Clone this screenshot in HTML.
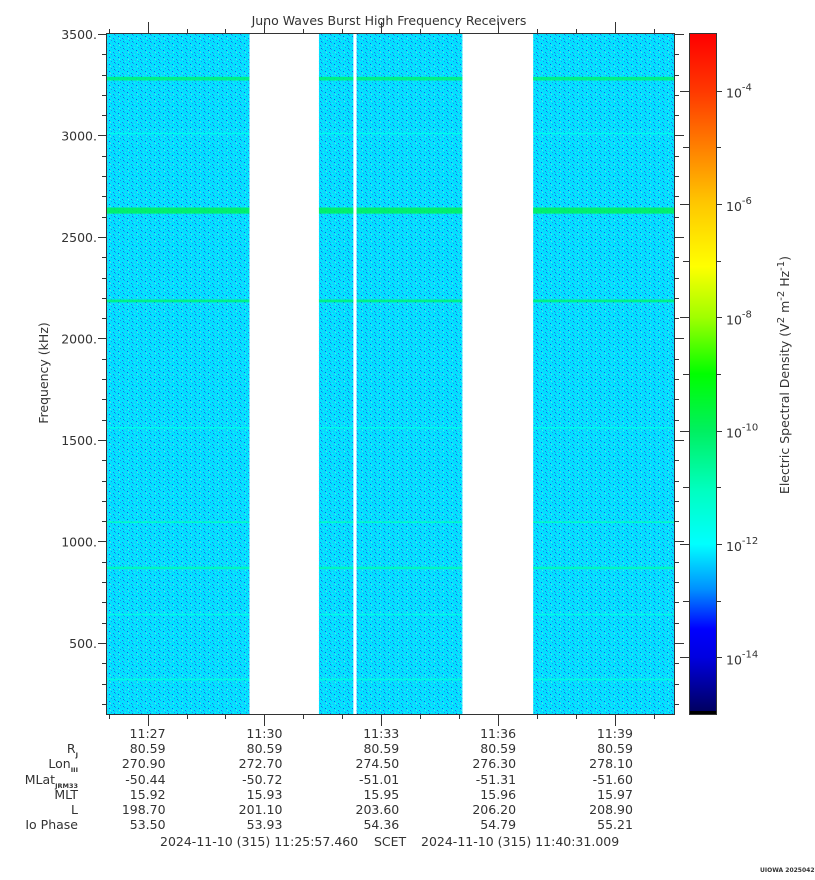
<!DOCTYPE html>
<html><head><meta charset="utf-8">
<style>
html,body{margin:0;padding:0;background:#fff;}
svg{display:block;font-family:"DejaVu Sans","Liberation Sans",sans-serif;}
text{fill:#333;}
</style></head>
<body>
<svg id="chart" width="815" height="880" viewBox="0 0 815 880">
<defs>
<pattern id="noise" width="9" height="7" patternUnits="userSpaceOnUse">
<rect x="1" y="1" width="1" height="1" fill="#1030e8"/>
<rect x="5" y="3" width="1" height="1" fill="#2050f0"/>
<rect x="3" y="5" width="1" height="1" fill="#3070f0"/>
<rect x="7" y="0" width="1" height="1" fill="#2a80f0"/>
<rect x="0" y="4" width="1" height="1" fill="#40a0f8"/>
<rect x="6" y="6" width="1" height="1" fill="#1848e8"/>
<rect x="8" y="2" width="1" height="1" fill="#50a8f8"/>
<rect x="4" y="0" width="1" height="1" fill="#30b0f8"/>
<rect x="2" y="2" width="1" height="1" fill="#40c0f0"/>
<rect x="6" y="4" width="1" height="1" fill="#2898f0"/>
<rect x="2" y="3" width="1" height="1" fill="#60f0e0"/>
<rect x="8" y="5" width="1" height="1" fill="#30e8f0"/>
</pattern>
<clipPath id="plotclip"><rect x="107" y="34" width="567" height="680"/></clipPath>
</defs>
<g id="plot" clip-path="url(#plotclip)"></g>
<g id="axes"></g>
</svg>
<script>
// ---- data ----
const segStarts = ["11:25:57.46","11:31:24","11:32:22"];
const segEnds   = ["11:29:37","11:32:17","11:35:05"];
const segStarts2 = ["11:36:54"];
const segEnds2 = ["11:40:31.01"];
const baseLevel = -12.2;          // log10 background density
const bandFreqs = [3280, 2630, 2185, 1095, 870, 3010, 1560, 640, 320];
const bandLevels = [-10.2, -9.9, -10.2, -11.0, -10.9, -11.7, -11.6, -11.6, -11.5];
const bandWidths = [18, 30, 14, 8, 12, 8, 8, 8, 10];  // kHz
const timeTicks = ["11:27","11:30","11:33","11:36","11:39"];
const freqTicks = [500,1000,1500,2000,2500,3000,3500];
const cbarDecades = [-4,-6,-8,-10,-12,-14];
const rowRj = ["80.59","80.59","80.59","80.59","80.59"];
const rowLon = ["270.90","272.70","274.50","276.30","278.10"];
const rowMLat = ["-50.44","-50.72","-51.01","-51.31","-51.60"];
const rowMLT = ["15.92","15.93","15.95","15.96","15.97"];
const rowL = ["198.70","201.10","203.60","206.20","208.90"];
const rowIo = ["53.50","53.93","54.36","54.79","55.21"];

// ---- scales ----
const X0=107,X1=674,Y0=34,Y1=714;
const tMin=toMin("11:25:57.46"), tMax=toMin("11:40:31.01");
function toMin(s){const p=s.split(":");return +p[0]*60+ +p[1]+(p[2]?+p[2]/60:0);}
const xs=t=>X0+(toMin(t)-tMin)/(tMax-tMin)*(X1-X0);
const fMin=150,fMax=3500;
const ys=f=>Y1-(f-fMin)/(fMax-fMin)*(Y1-Y0);
const cMin=-15,cMax=-3;
const cy=v=>Y1-(v-cMin)/(cMax-cMin)*(Y1-Y0);
const stops=[[-15,[0,0,90]],[-14,[0,0,224]],[-13.5,[0,0,255]],[-12.8,[0,144,255]],[-12,[0,255,255]],[-11.05,[0,255,192]],[-10,[0,240,96]],[-9,[0,255,0]],[-8,[160,255,0]],[-7.1,[255,255,0]],[-6,[255,200,0]],[-4,[255,56,0]],[-3,[255,0,0]]];
function cmap(v){for(let i=1;i<stops.length;i++){if(v<=stops[i][0]){const a=stops[i-1],b=stops[i],f=Math.max(0,(v-a[0])/(b[0]-a[0]));return "rgb("+a[1].map((c,k)=>Math.round(c+(b[1][k]-c)*f)).join(",")+")";}}return "rgb(255,0,0)";}

const NS="http://www.w3.org/2000/svg";
function el(tag,attrs,parent,txt){const e=document.createElementNS(NS,tag);for(const k in attrs)e.setAttribute(k,attrs[k]);if(txt!==undefined)e.textContent=txt;parent.appendChild(e);return e;}
const plot=document.getElementById("plot"), axes=document.getElementById("axes");

const allStarts=segStarts.concat(segStarts2), allEnds=segEnds.concat(segEnds2);
allStarts.forEach((s,i)=>{
  const x=xs(s), w=xs(allEnds[i])-x;
  const g=el("g",{},plot);
  
  
  el("rect",{x:x,y:Y0,width:w,height:Y1-Y0,fill:cmap(baseLevel)},g);
  el("rect",{x:x,y:Y0,width:w,height:Y1-Y0,fill:"url(#noise)",opacity:0.8},g);
  bandFreqs.forEach((f,j)=>{
    const yTop=ys(f+bandWidths[j]/2), yBot=ys(f-bandWidths[j]/2);
    const r=el("rect",{x:x,y:yTop,width:w,height:Math.max(1.5,yBot-yTop),fill:cmap(bandLevels[j]),opacity:0.85},g);
    
    
  });
});

const frame=el("rect",{x:106.5,y:33.5,width:568,height:681,fill:"none",stroke:"#333","stroke-width":1},axes);



for(let f=200;f<=3500;f+=100){
  const y=Math.round(ys(f))+0.5, major=f%500===0;
  el("line",{x1:106,x2:major?98:102,y1:y,y2:y,stroke:"#333"},axes);
  el("line",{x1:674,x2:major?684:679,y1:y,y2:y,stroke:"#333"},axes);
}
freqTicks.forEach(f=>{
  const t=el("text",{x:97,y:ys(f)+5,"text-anchor":"end","font-size":12.5},axes,f+".");
  
  
});
const yl=el("text",{x:0,y:0,"text-anchor":"middle","font-size":12.5,transform:"translate(48,373) rotate(-90)"},axes,"Frequency (kHz)");



for(let m=26;m<=40;m++){
  const lbl="11:"+String(m).padStart(2,"0");
  const x=Math.round(xs(lbl))+0.5, major=m%3===0;
  el("line",{x1:x,x2:x,y1:34,y2:major?22:29,stroke:"#333"},axes);
  el("line",{x1:x,x2:x,y1:714,y2:major?726:719,stroke:"#333"},axes);
}
const colRight=t=>xs(t)+18;
timeTicks.forEach(t=>{
  const e=el("text",{x:colRight(t),y:738,"text-anchor":"end","font-size":12.5},axes,t);
  
  
});
const rows=[rowRj,rowLon,rowMLat,rowMLT,rowL,rowIo];
const rowY=[753,768,784,799,814,829];
rows.forEach((r,i)=>{
  r.forEach((v,j)=>{
    const e=el("text",{x:colRight(timeTicks[j]),y:rowY[i],"text-anchor":"end","font-size":12.5},axes,v);
    
    
  });
});
const lbls=[["R","J"],["Lon","III"],["MLat","JRM33"],["MLT",""],["L",""],["Io Phase",""]];
lbls.forEach((l,i)=>{
  const t=el("text",{x:78,y:rowY[i],"text-anchor":"end","font-size":12.5},axes);
  
  
  el("tspan",{},t,l[0]);
  if(l[1]) el("tspan",{"font-size":6.5,dy:4,"font-weight":"bold"},t,l[1]);
});
[["2024-11-10 (315) 11:25:57.460",160],["SCET",374],["2024-11-10 (315) 11:40:31.009",421]].forEach(d=>{
  const dl=el("text",{x:d[1],y:846,"font-size":12.5},axes,d[0]);
  
  
});

const ti=el("text",{x:389,y:25,"text-anchor":"middle","font-size":12.5},axes,"Juno Waves Burst High Frequency Receivers");



const cb=el("g",{},axes);


for(let y=Y0;y<Y1;y++){
  const v=cMin+(Y1-y-0.5)/(Y1-Y0)*(cMax-cMin);
  el("rect",{x:690,y:y,width:26,height:1.05,fill:cmap(v)},cb);
}
el("rect",{x:690,y:711,width:26,height:3,fill:"#000"},cb);
el("rect",{x:689.5,y:33.5,width:27,height:681,fill:"none",stroke:"#333"},cb);
for(let d=-14;d<=-4;d++){
  const y=Math.round(cy(d))+0.5, major=d%2===0;
  el("line",{x1:689,x2:major?680:683,y1:y,y2:y,stroke:"#333"},cb);
  el("line",{x1:716,x2:major?722:721,y1:y,y2:y,stroke:"#333"},cb);
}
cbarDecades.forEach(d=>{
  const t=el("text",{x:726,y:cy(d)+7,"font-size":12.5},cb);
  
  
  el("tspan",{},t,"10");
  el("tspan",{dy:-7,"font-size":10},t,String(d));
});
const ct=el("text",{x:0,y:0,"text-anchor":"middle","font-size":12.5,transform:"translate(789,375) rotate(-90)"},axes);


el("tspan",{},ct,"Electric Spectral Density (V");
el("tspan",{dy:-5,"font-size":10},ct,"2");
el("tspan",{dy:5},ct," m");
el("tspan",{dy:-5,"font-size":10},ct,"-2");
el("tspan",{dy:5},ct," Hz");
el("tspan",{dy:-5,"font-size":10},ct,"-1");
el("tspan",{dy:5},ct,")");

const ui=el("text",{x:760,y:872,"font-size":6,"font-weight":"bold"},axes,"UIOWA 20250427");


</script>
</body></html>
